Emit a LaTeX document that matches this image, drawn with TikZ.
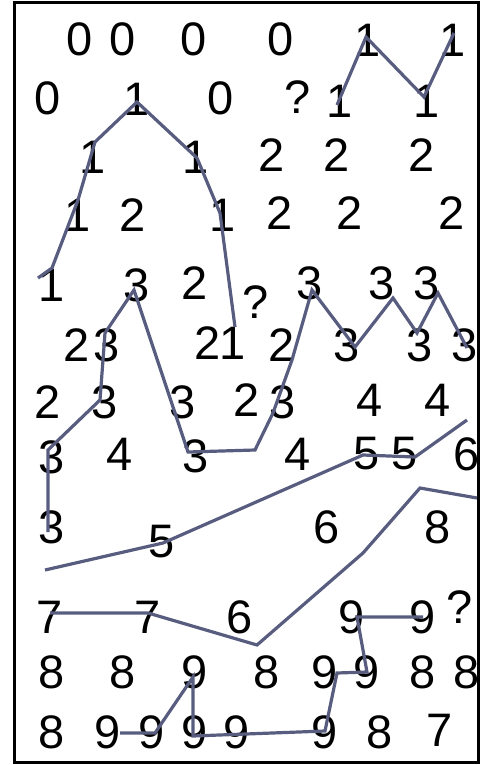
\documentclass[tikz,border=0pt]{standalone}
\usepackage{fontspec}
\setmainfont{Liberation Sans}
\usepackage{xcolor}
\definecolor{trail}{RGB}{88,93,128}

\begin{document}
\begin{tikzpicture}[x=1pt, y=-1pt,
    dig/.style={inner sep=0pt, font=\fontsize{47}{47}\selectfont},
    trace/.style={draw=trail, line width=3.2pt}]
    \useasboundingbox (0,0) rectangle (487,765);
    \draw[line width=3pt] (14,3) rectangle (478,762);
    % digits, row by row
    \foreach \x/\y/\t [count=\i] in {80/39/0, 123/39/0, 194/39/0, 281/39/0, 368/40/1, 453/40/1}
        \node[dig] (ra\i) at (\x,\y) {\t};
    \foreach \x/\y/\t [count=\i] in {48/98/0, 137/99/1, 221/98/0, 298/97/?, 340/101/1, 427/101/1}
        \node[dig] (rb\i) at (\x,\y) {\t};
    \foreach \x/\y/\t [count=\i] in {93/157/1, 196/157/1, 272/155/2, 337/155/2, 422/155/2}
        \node[dig] (rc\i) at (\x,\y) {\t};
    \foreach \x/\y/\t [count=\i] in {78/215/1, 133/215/2, 223/215/1, 280/213/2, 350/213/2, 452/213/2}
        \node[dig] (rd\i) at (\x,\y) {\t};
    \foreach \x/\y/\t [count=\i] in {52/285/1, 137/285/3, 195/283/2, 256/302/?, 310/283/3, 382/283/3, 427/283/3}
        \node[dig] (re\i) at (\x,\y) {\t};
    \foreach \x/\y/\t [count=\i] in {77/345/2, 107/345/3, 208/343/2, 233/343/1, 282/345/2, 347/345/3, 420/345/3, 465/345/3}
        \node[dig] (rf\i) at (\x,\y) {\t};
    \foreach \x/\y/\t [count=\i] in {48/402/2, 105/402/3, 183/402/3, 247/400/2, 283/402/3, 370/400/4, 438/400/4}
        \node[dig] (rg\i) at (\x,\y) {\t};
    \foreach \x/\y/\t [count=\i] in {52/457/3, 120/454/4, 196/456/3, 298/454/4, 367/454/5, 405/454/5, 467/454/6}
        \node[dig] (rh\i) at (\x,\y) {\t};
    \foreach \x/\y/\t [count=\i] in {52/527/3, 162/542/5, 327/527/6, 438/527/8}
        \node[dig] (ri\i) at (\x,\y) {\t};
    \foreach \x/\y/\t [count=\i] in {50/617/7, 148/617/7, 240/617/6, 352/617/9, 423/617/9, 460/607/?}
        \node[dig] (rj\i) at (\x,\y) {\t};
    \foreach \x/\y/\t [count=\i] in {52/672/8, 123/672/8, 195/672/9, 267/672/8, 325/672/9, 367/672/9, 423/672/8, 467/672/8}
        \node[dig] (rk\i) at (\x,\y) {\t};
    \foreach \x/\y/\t [count=\i] in {52/732/8, 108/732/9, 152/732/9, 195/732/9, 237/732/9, 325/732/9, 380/732/8, 440/730/7}
        \node[dig] (rl\i) at (\x,\y) {\t};
    % trails
    \draw[trace] (337,105) -- (366,37) -- (424,97) -- (454,33);
    \draw[trace] (38,278) -- (52,268) -- (78,200) -- (95,142) -- (137,102) -- (197,158) -- (220,213) -- (235,327);
    \draw[trace] (48,532) -- (48,450) -- (100,400) -- (105,333) -- (134,290) -- (188,452) -- (255,450)
        -- (273,413) -- (292,360) -- (312,290) -- (355,347) -- (393,298) -- (417,333) -- (438,293) -- (467,348);
    \draw[trace] (45,570) -- (163,543) -- (363,455) -- (415,457) -- (467,420);
    \draw[trace] (477,498) -- (420,488) -- (363,553) -- (257,645) -- (148,613) -- (50,613);
    \draw[trace] (423,617) -- (357,617) -- (367,672) -- (337,673) -- (325,731) -- (193,736) -- (193,677) -- (155,733) -- (120,733);
\end{tikzpicture}
\end{document}
